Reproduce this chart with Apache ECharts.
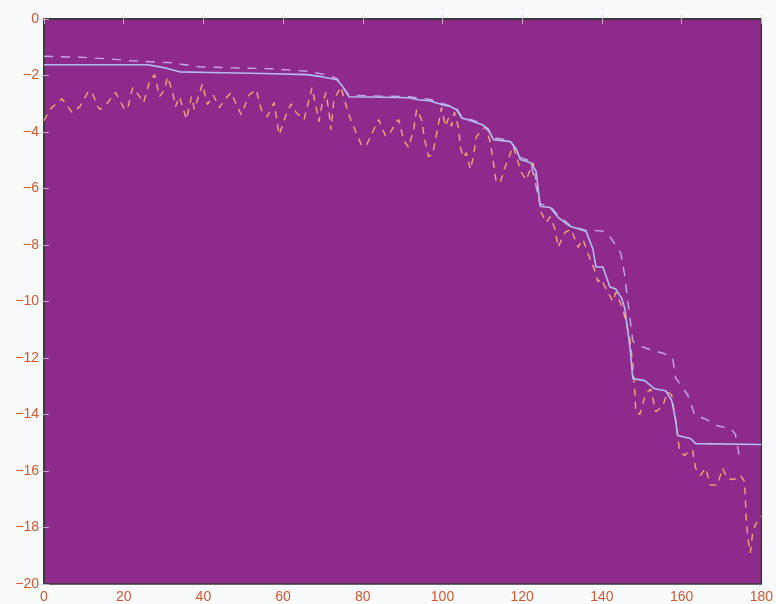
<!DOCTYPE html>
<html>
<head>
<meta charset="utf-8">
<script src="https://cdn.jsdelivr.net/npm/echarts@6/dist/echarts.min.js"></script>
<style>
  html, body { margin: 0; padding: 0; background: #f8fafc; }
  #chart { width: 776px; height: 604px; }
</style>
</head>
<body>
<div id="chart"></div>
<script>
// ---- data (x, value) ----
const xTicks = [0, 20, 40, 60, 80, 100, 120, 140, 160, 180];
const yTicks = [0, -2, -4, -6, -8, -10, -12, -14, -16, -18, -20];

const solidLine = [
  [0,-1.62],[26,-1.62],[30,-1.72],[34,-1.87],[45,-1.9],[55,-1.93],[66,-1.97],[70,-2.05],
  [73.5,-2.15],[75,-2.4],[76.5,-2.75],[85,-2.77],[91.5,-2.79],[94,-2.86],[97,-2.9],
  [99.75,-3.03],[102,-3.1],[103.5,-3.21],[104.8,-3.5],[106,-3.55],[110,-3.74],[111.5,-3.9],
  [112.75,-4.27],[117,-4.34],[118.5,-4.6],[119.5,-4.97],[122,-5.08],[123.5,-5.4],
  [124.5,-6.63],[127,-6.67],[129,-7.02],[132,-7.34],[136,-7.51],[137.75,-8.15],
  [138.5,-8.78],[140.25,-8.78],[142,-9.49],[143.5,-9.56],[145,-9.9],[145.75,-10.26],
  [147,-11.57],[147.75,-12.73],[150.75,-12.8],[153.25,-13.09],[156,-13.16],[157.5,-13.5],
  [158.5,-14.2],[159,-14.74],[162.25,-14.85],[163.5,-15.03],[180,-15.06]
];

const upperDashed = [
  [0,-1.32],[10,-1.36],[16,-1.41],[22,-1.48],[32,-1.55],[39,-1.69],[47,-1.73],[57,-1.76],
  [66,-1.85],[70,-1.95],[73.5,-2.1],[75,-2.4],[76.5,-2.7],[91.5,-2.75],[97,-2.85],
  [99.75,-2.98],[103.5,-3.15],[104.8,-3.45],[110,-3.7],[112.75,-4.2],[117,-4.3],
  [119.5,-4.9],[122,-5.03],[124.5,-6.55],[127,-6.62],[129,-6.95],[132,-7.3],[136,-7.48],
  [140,-7.5],[142,-7.7],[144.75,-8.3],[145.75,-9.1],[146.5,-10.0],[147.75,-11.4],
  [149,-11.55],[152,-11.7],[155.75,-11.85],[157.75,-12.0],[158.5,-12.7],[161.5,-13.3],
  [163.25,-14.0],[165.75,-14.15],[169,-14.4],[172.25,-14.5],[173.5,-14.7],[174.75,-15.7]
];

const orangeDashed = [
  [0,-3.6],[1.5,-3.2],[3.5,-2.93],[4.5,-2.82],[6.5,-3.2],[7,-3.3],[9,-3.1],[11,-2.6],
  [12,-2.57],[13.5,-3.1],[14,-3.2],[16,-2.96],[18,-2.6],[18.5,-2.75],[20.25,-3.2],
  [21,-3.17],[22.25,-2.43],[23.25,-2.6],[25,-2.96],[26.5,-2.2],[27.75,-1.97],[29,-2.75],
  [30.25,-2.5],[31,-2.05],[32.25,-2.57],[33,-3.1],[34,-2.75],[35.75,-3.56],[37,-2.75],
  [37.75,-3.2],[39.75,-2.3],[41,-3.03],[42.5,-2.7],[44,-3.14],[45.75,-2.79],[47,-2.6],
  [48.25,-3.03],[49.5,-3.39],[51.5,-2.68],[53.25,-2.5],[54.5,-3.2],[56,-3.46],
  [57.75,-2.96],[59,-4.1],[60.75,-3.39],[62,-3.0],[63.25,-3.31],[65.25,-3.56],
  [66.5,-2.86],[67.25,-2.43],[68.25,-3.1],[69,-3.63],[69.75,-3.03],[70.75,-2.61],
  [71.5,-3.28],[72,-3.92],[72.75,-2.86],[74.5,-2.4],[75.25,-2.79],[76.5,-3.39],
  [78.25,-4.0],[79.75,-4.5],[81,-4.44],[82.75,-3.92],[84,-3.56],[85.75,-4.16],[87,-4.0],
  [88.25,-3.67],[89,-3.56],[90.25,-4.3],[91.5,-4.55],[92.75,-3.92],[93.5,-3.2],
  [94.75,-3.56],[95.5,-4.27],[96.5,-4.87],[97.5,-4.8],[98.25,-4.27],[99.75,-3.14],
  [100.75,-3.8],[101.5,-3.5],[102.25,-3.8],[103,-3.3],[104,-3.84],[104.5,-4.55],
  [105.25,-4.9],[106,-4.73],[107,-5.33],[107.75,-4.87],[108.5,-4.16],[110.75,-3.8],
  [112,-4.37],[112.75,-5.08],[113.5,-5.78],[114.5,-5.78],[115.75,-5.22],[117.75,-4.5],
  [119.75,-5.43],[121,-5.7],[122,-5.33],[122.75,-5.08],[124.75,-6.84],[126,-7.2],
  [127,-7.0],[128.25,-7.44],[129,-8.08],[130.75,-7.55],[132.25,-7.44],[134,-8.08],
  [135.25,-7.8],[136.5,-8.3],[138.25,-8.92],[139,-9.3],[139.75,-9.2],[141.5,-9.67],
  [142.75,-10.0],[143.5,-9.67],[145.25,-10.26],[147,-11.3],[147.75,-12.2],[148.25,-13.2],
  [148.5,-13.9],[149.5,-14.0],[151,-13.26],[152.25,-13.1],[153.5,-13.9],[155.25,-13.7],
  [156.5,-13.2],[157.5,-13.3],[158.5,-14.2],[159.5,-15.3],[160.75,-15.45],[162,-15.27],
  [162.75,-15.27],[163.5,-15.9],[164.75,-16.15],[166,-15.9],[167.25,-16.5],[169,-16.5],
  [170.25,-15.9],[171.5,-16.26],[172.75,-16.3],[174,-16.26],[174.75,-16.15],
  [175.75,-16.37],[176,-17.0],[176.25,-17.8],[176.75,-18.5],[177.25,-18.9],
  [177.75,-18.27],[178.5,-17.9],[180,-17.6]
];

// ---- chart ----
const labelColor = '#d4572e';
const tickColor = 'rgba(225,205,230,0.75)';
const frameColor = '#3a3a3a';
const fmt = v => String(v).replace('-', '\u2212');

const chart = echarts.init(document.getElementById('chart'), null, { renderer: 'canvas' });

const baseX = {
  type: 'value', min: xTicks[0], max: xTicks[xTicks.length - 1], interval: 20,
  splitLine: { show: false },
  axisLine: { show: true, lineStyle: { color: frameColor, width: 1.5 } },
  axisTick: { show: true, inside: true, length: 5, lineStyle: { color: tickColor, width: 1 } }
};
const baseY = {
  type: 'value', min: yTicks[yTicks.length - 1], max: yTicks[0], interval: 2,
  splitLine: { show: false },
  axisLine: { show: true, lineStyle: { color: frameColor, width: 1.5 } },
  axisTick: { show: true, inside: true, length: 5, lineStyle: { color: tickColor, width: 1 } }
};

chart.setOption({
  animation: false,
  backgroundColor: '#f8fafc',
  grid: {
    left: 44, right: 13, top: 19, bottom: 18,
    show: true, backgroundColor: '#8e2a8c', borderColor: frameColor, borderWidth: 1.5
  },
  xAxis: [
    Object.assign({}, baseX, {
      position: 'bottom',
      axisLabel: { color: labelColor, fontSize: 14, fontFamily: 'Liberation Sans, Arial, sans-serif', margin: 6, formatter: fmt, showMinLabel: true, showMaxLabel: true }
    }),
    Object.assign({}, baseX, { position: 'top', axisLabel: { show: false } })
  ],
  yAxis: [
    Object.assign({}, baseY, {
      position: 'left',
      axisLabel: { color: labelColor, fontSize: 14, fontFamily: 'Liberation Sans, Arial, sans-serif', margin: 5, formatter: fmt, showMinLabel: true, showMaxLabel: true }
    }),
    Object.assign({}, baseY, { position: 'right', axisLabel: { show: false } })
  ],
  series: [
    {
      type: 'line', data: orangeDashed, symbol: 'none', z: 2,
      lineStyle: { color: '#f2a874', width: 1.4, type: [7, 6] }
    },
    {
      type: 'line', data: upperDashed, symbol: 'none', z: 3,
      lineStyle: { color: '#c7a6e6', width: 1.4, type: [9, 8] }
    },
    {
      type: 'line', data: solidLine, symbol: 'none', z: 4,
      lineStyle: { color: '#b3bdf0', width: 1.6 }
    }
  ]
});
</script>
</body>
</html>
